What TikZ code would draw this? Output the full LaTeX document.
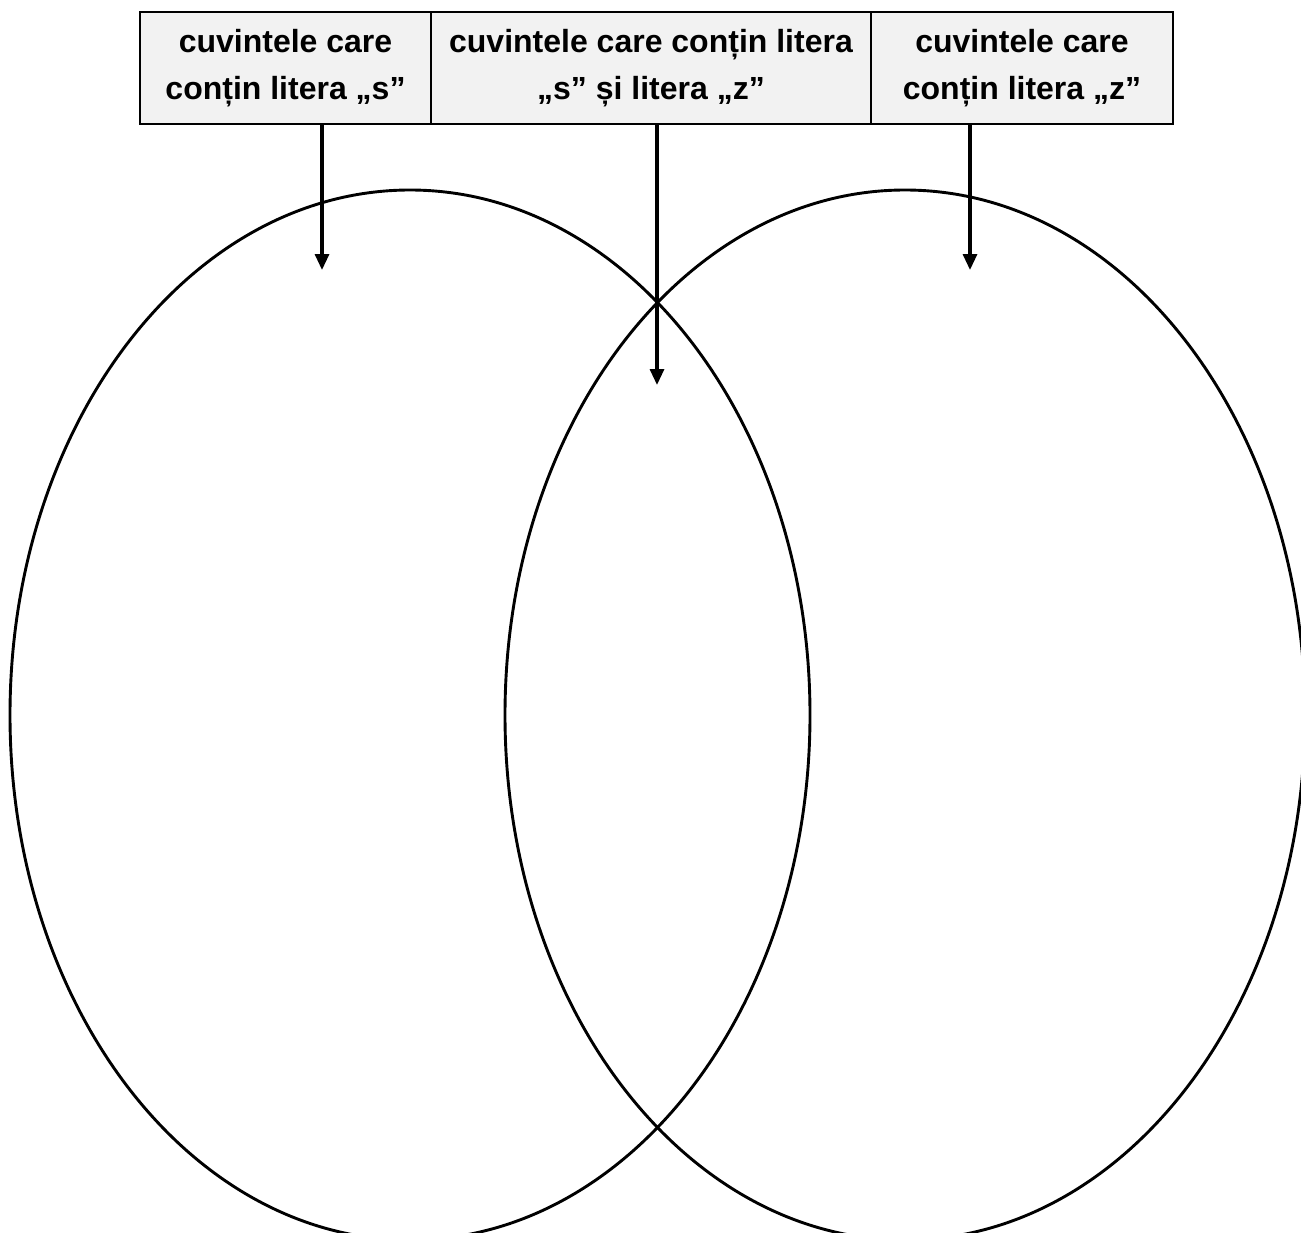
\documentclass[tikz,border=0pt]{standalone}
\usepackage{fontspec}
\setmainfont{Liberation Sans}
\usepackage{tikz}
\usetikzlibrary{arrows.meta,positioning}

\begin{document}
\begin{tikzpicture}[
    x=0.5pt, y=-0.5pt,
    cell/.style={draw=black, line width=1pt, fill=black!5,
      minimum height=56pt, inner sep=0pt, outer sep=0pt, align=center,
      font=\fontsize{16}{23.5}\selectfont\bfseries},
    set/.style={draw=black, line width=1.45pt},
    arrow/.style={-{Triangle[length=8pt, width=7pt]}, line width=1.6pt}
  ]
    \useasboundingbox (0,0) rectangle (1301,1232);
    % header table
    \node[cell, minimum width=145.5pt, anchor=north west] (hs) at (140,12) {cuvintele care\\conțin litera „s”};
    \node[cell, minimum width=220pt, right=0pt of hs] (hsz) {cuvintele care conțin litera\\„s” și litera „z”};
    \node[cell, minimum width=151pt, right=0pt of hsz] (hz) {cuvintele care\\conțin litera „z”};
    % the two sets
    \draw[set] (410,715) ellipse [x radius=200pt, y radius=262.5pt];
    \draw[set] (905,715) ellipse [x radius=200pt, y radius=262.5pt];
    \coordinate (ins) at (322,270);
    \coordinate (insz) at (657,385);
    \coordinate (inz) at (970,270);
    \draw[arrow] (hs.south -| ins) -- (ins);
    \draw[arrow] (hsz.south -| insz) -- (insz);
    \draw[arrow] (hz.south -| inz) -- (inz);
  \end{tikzpicture}
\end{document}
